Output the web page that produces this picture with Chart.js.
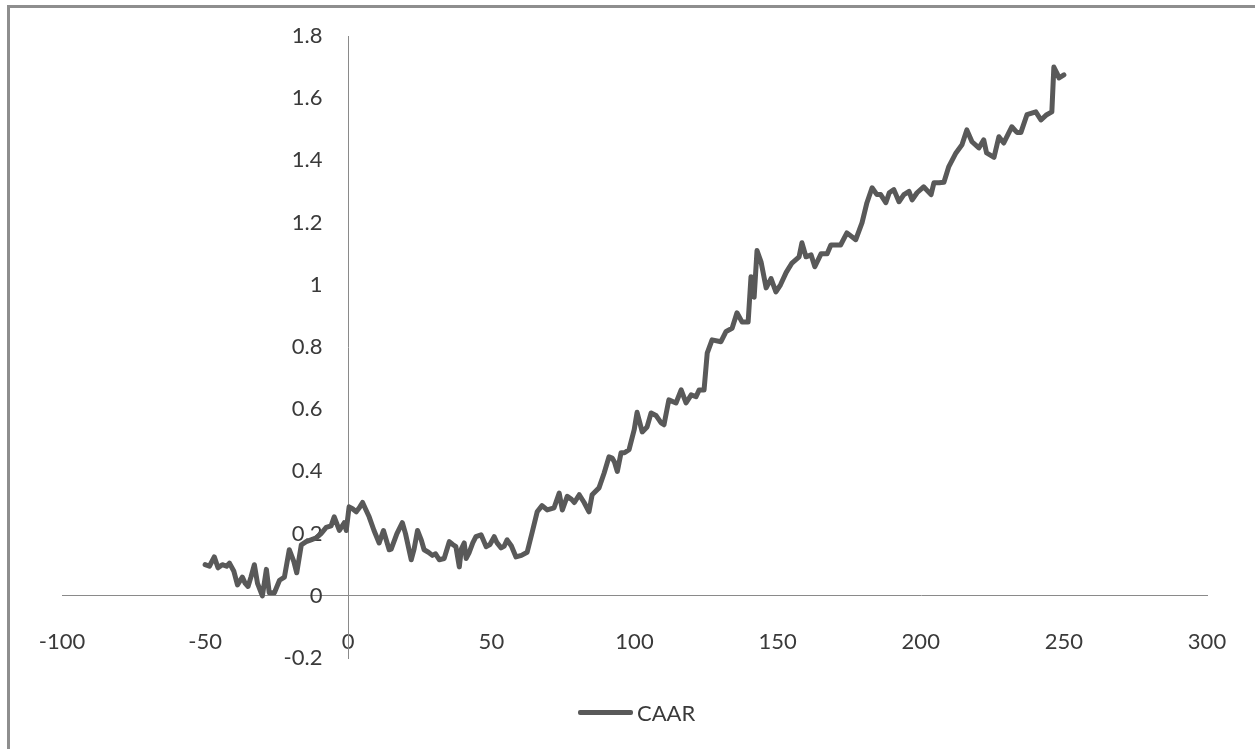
<!DOCTYPE html>
<html>
<head>
<meta charset="utf-8">
<script src="https://cdn.jsdelivr.net/npm/chart.js@4.4.1/dist/chart.umd.min.js"></script>
<style>
  html, body { margin: 0; padding: 0; background: #fff; overflow: hidden; }
  #frame {
    position: absolute; left: 7px; top: 5px; width: 1300px; height: 800px;
    border-left: 3px solid #8e8e8e; border-top: 3px solid #8e8e8e;
  }
  #chart { position: absolute; left: 0; top: 0; }
  #legend {
    position: absolute; left: 578px; top: 699px;
    display: flex; align-items: center;
    font: 22px Lato, sans-serif; color: #3a3a3a;
  }
  #legend .swatch { width: 55px; height: 5px; background: #595959; border-radius: 2px; margin-right: 4px; }
</style>
</head>
<body>
<div id="frame"></div>
<canvas id="chart" width="1255" height="749"></canvas>
<div id="legend"><span class="swatch"></span><span>CAAR</span></div>
<script>
const SERIES_NAME = 'CAAR';

// event day (x) and cumulative average abnormal return (y)
const eventDays = [
  -50, -48.5, -46.8, -45.5, -44, -42.5, -41.5, -40, -38.7, -37, -36, -35, -34, -32.8, -31.7, -30,
  -28.6, -27.6, -25.8, -24, -22.3, -20.6, -19, -18, -16.4, -14.7, -13, -11.2, -9.5, -7.7, -6, -4.9,
  -3.1, -1.4, -0.7, 0.3, 1.5, 2.8, 4, 5, 6, 7.3, 9, 10.8, 12.3, 14.3, 15, 17, 18.9, 20, 22, 23,
  24.2, 25.5, 26.5, 28, 29.4, 30.5, 31.8, 33.5, 35.3, 36.5, 37.6, 38.8, 39.5, 40.5, 41.2, 42.2,
  43.5, 44.6, 46.4, 48.2, 49.5, 51, 52, 53.4, 54.5, 55.5, 57, 58.6, 60.5, 62.5, 64.3, 66, 67.7,
  69.5, 71.9, 73.7, 74.8, 76.5, 78, 79, 80.7, 82.4, 84.1, 85.2, 87.6, 89.4, 91.1, 92.2, 93, 94,
  95.3, 96.5, 98.1, 99.9, 100.9, 102.7, 104.4, 105.8, 107.5, 109.3, 110.3, 112, 114.5, 116.3, 118,
  119.8, 121.5, 122.6, 124.3, 125.4, 127.1, 130.2, 132, 134.1, 135.8, 137.6, 139.7, 140.7, 141.8,
  142.8, 144.2, 146, 147.7, 149.4, 151, 153, 155, 157.5, 158.5, 159.9, 161.7, 163, 165.2, 167.3,
  168.6, 170.7, 172, 174.2, 177.3, 179.5, 181.2, 183, 184.7, 186, 187.8, 189, 190.6, 192.4, 194.1,
  195.9, 197, 198.7, 201, 203.6, 204.6, 206.4, 208.1, 209.8, 212.3, 214.4, 216.1, 217.9, 220.3,
  222, 223, 225.6, 227.3, 229, 231.8, 233.6, 235, 237.1, 240.2, 242, 244, 245.8, 246.5, 247.6,
  248.3, 250,
];
const caar = [
  0.10, 0.095, 0.125, 0.09, 0.10, 0.095, 0.105, 0.08, 0.035, 0.06, 0.04, 0.03, 0.06, 0.10, 0.04, 0.0,
  0.085, 0.01, 0.01, 0.05, 0.06, 0.148, 0.11, 0.074, 0.164, 0.174, 0.18, 0.186, 0.20, 0.22, 0.225, 0.254,
  0.21, 0.235, 0.21, 0.286, 0.28, 0.27, 0.285, 0.30, 0.28, 0.254, 0.21, 0.17, 0.21, 0.148, 0.15, 0.20, 0.235, 0.20, 0.116, 0.15,
  0.21, 0.18, 0.148, 0.14, 0.13, 0.135, 0.116, 0.12, 0.174, 0.165, 0.158, 0.093, 0.15, 0.17, 0.12, 0.138,
  0.17, 0.19, 0.196, 0.158, 0.165, 0.19, 0.17, 0.154, 0.16, 0.18, 0.16, 0.125, 0.13, 0.14, 0.206, 0.27, 0.29,
  0.276, 0.283, 0.33, 0.276, 0.32, 0.31, 0.30, 0.325, 0.30, 0.27, 0.325, 0.347, 0.395, 0.447, 0.443, 0.43, 0.40,
  0.46, 0.46, 0.47, 0.534, 0.59, 0.527, 0.543, 0.588, 0.58, 0.556, 0.55, 0.63, 0.62, 0.662, 0.62,
  0.646, 0.64, 0.662, 0.662, 0.78, 0.823, 0.817, 0.85, 0.86, 0.91, 0.88, 0.88, 1.026, 0.96,
  1.11, 1.074, 0.99, 1.02, 0.977, 1.00, 1.04, 1.07, 1.09, 1.135, 1.09, 1.096, 1.058, 1.10, 1.10,
  1.128, 1.128, 1.128, 1.167, 1.145, 1.20, 1.264, 1.312, 1.29, 1.29, 1.264, 1.296, 1.306, 1.267, 1.29,
  1.30, 1.273, 1.296, 1.315, 1.29, 1.328, 1.328, 1.33, 1.38, 1.424, 1.45, 1.498, 1.46, 1.44,
  1.466, 1.424, 1.41, 1.476, 1.456, 1.508, 1.49, 1.49, 1.547, 1.556, 1.53, 1.547, 1.556, 1.70, 1.68,
  1.665, 1.675,
];

const X_MIN = -100, X_MAX = 300, X_STEP = 50;
const Y_MIN = -0.2, Y_MAX = 1.8, Y_STEP = 0.2;

const AXIS_COLOR = '#8a8a8a';
const TEXT_COLOR = '#3a3a3a';
const LINE_COLOR = '#595959';
const TICK_FONT = { family: 'Lato', size: 22 };

function fmt(v) {
  return String(Number(v.toFixed(1)));
}

const ctx = document.getElementById('chart').getContext('2d');
new Chart(ctx, {
  type: 'scatter',
  data: {
    datasets: [
      {
        label: SERIES_NAME,
        data: eventDays.map((d, i) => ({ x: d, y: caar[i] })),
        showLine: true,
        borderColor: LINE_COLOR,
        backgroundColor: LINE_COLOR,
        borderWidth: 5,
        pointRadius: 0,
        tension: 0,
        borderJoinStyle: 'round',
        borderCapStyle: 'round',
      },
    ],
  },
  options: {
    responsive: false,
    animation: false,
    devicePixelRatio: 1,
    layout: { padding: { left: 62, right: 48, top: 36, bottom: 91 } },
    plugins: {
      legend: { display: false },
      tooltip: { enabled: false },
    },
    scales: {
      // labels only, set a little below the axis line
      x: {
        type: 'linear',
        position: { y: -0.106 },
        min: X_MIN,
        max: X_MAX,
        grid: { display: false, drawTicks: false },
        border: { display: false },
        ticks: {
          stepSize: X_STEP,
          padding: 0,
          color: TEXT_COLOR,
          font: TICK_FONT,
          maxRotation: 0,
          callback: (v) => fmt(v),
        },
      },
      // horizontal axis line at y = 0
      xLine: {
        type: 'linear',
        axis: 'x',
        position: { y: 0 },
        min: X_MIN,
        max: X_MAX,
        grid: { display: false, drawTicks: false },
        border: { display: true, color: AXIS_COLOR, width: 1 },
        ticks: { display: false },
      },
      // labels only, set a little left of the axis line
      y: {
        type: 'linear',
        position: { x: -9 },
        min: Y_MIN,
        max: Y_MAX,
        grid: { display: false, drawTicks: false },
        border: { display: false },
        ticks: {
          stepSize: Y_STEP,
          color: TEXT_COLOR,
          font: TICK_FONT,
          callback: (v) => fmt(v),
        },
      },
      // vertical axis line at x = 0
      yLine: {
        type: 'linear',
        axis: 'y',
        position: { x: 0 },
        min: Y_MIN,
        max: Y_MAX,
        grid: { display: false, drawTicks: false },
        border: { display: true, color: AXIS_COLOR, width: 1 },
        ticks: { display: false },
      },
    },
  },
});
</script>
</body>
</html>
